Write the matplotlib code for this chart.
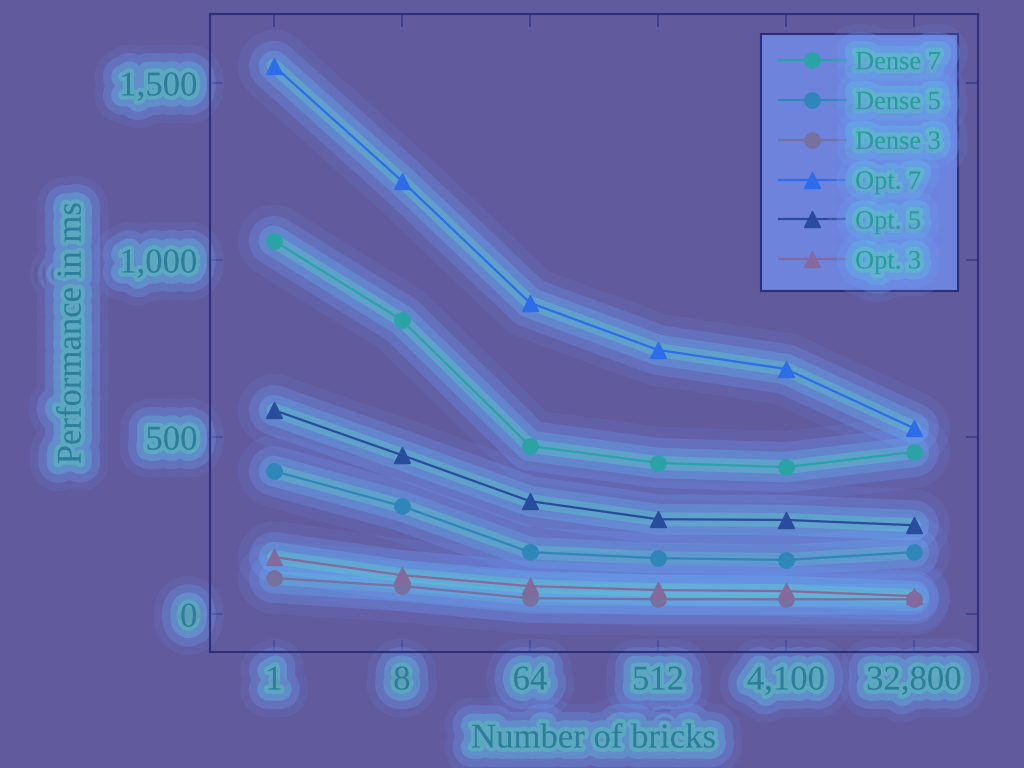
import matplotlib
matplotlib.use('Agg')
import matplotlib.pyplot as plt
import matplotlib.patheffects as pe
import numpy as np

# bricks (categorical, evenly spaced)
bricks = ['1', '8', '64', '512', '4,100', '32,800']

dense7 = [1054, 830, 475, 427, 415, 458]
dense5 = [404, 305, 175, 158, 153, 175]
dense3 = [102, 79, 45, 42, 42, 42]
opt7 = [1548, 1223, 879, 746, 692, 525]
opt5 = [576, 449, 319, 268, 266, 251]
opt3 = [161, 110, 79, 68, 65, 51]

series = [
    ('Dense 7', dense7, 'o', '#2aa3a6'),
    ('Dense 5', dense5, 'o', '#2f86b8'),
    ('Dense 3', dense3, 'o', '#76719f'),
    ('Opt. 7', opt7, '^', '#2f6cea'),
    ('Opt. 5', opt5, '^', '#2a4c9e'),
    ('Opt. 3', opt3, '^', '#85699c'),
]

bg = '#615a9c'
txt = '#2e7b9c'

plt.rcParams['font.family'] = ['Liberation Serif', 'DejaVu Serif']

def tglow():
    return [pe.Stroke(linewidth=40, foreground='#6a80dc', alpha=0.2),
            pe.Stroke(linewidth=28, foreground='#6a9cf0', alpha=0.3),
            pe.Stroke(linewidth=16, foreground='#5ec0e6', alpha=0.35),
            pe.Stroke(linewidth=6, foreground='#58dcb0', alpha=0.35),
            pe.Normal()]

fig = plt.figure(figsize=(10.24, 7.68), dpi=100, facecolor=bg)
ax = fig.add_axes([0.205, 0.151, 0.75, 0.831], facecolor=bg)

x = np.arange(len(bricks))
# soft halo under each series
for name, vals, mk, col in series:
    for w, c, a in [(52, '#6a80dc', 0.2), (36, '#6c98f2', 0.28),
                    (22, '#62b4f2', 0.32), (10, '#5cd6c8', 0.35)]:
        ax.plot(x, vals, color=c, lw=w, alpha=a, solid_capstyle='round',
                solid_joinstyle='round', zorder=1)

for name, vals, mk, col in series:
    ax.plot(x, vals, marker=mk, color=col, lw=1.6, markersize=11,
            label=name, zorder=3)

ax.set_xlim(-0.5, 5.5)
ax.set_ylim(-107, 1695)
ax.set_xticks(x)
ax.set_xticklabels(bricks)
ax.set_yticks([0, 500, 1000, 1500])
ax.set_yticklabels(['0', '500', '1,000', '1,500'])

ax.tick_params(direction='in', length=9, width=1.2, color='#3a3f8c',
               labelsize=25, labelcolor=txt, top=True, right=True, pad=9)
for s in ax.spines.values():
    s.set_color('#2c2f7c')
    s.set_linewidth(1.5)

for lab in ax.get_xticklabels() + ax.get_yticklabels():
    lab.set_path_effects(tglow())

ax.set_xlabel('Number of bricks', fontsize=25, color=txt, labelpad=18,
              path_effects=tglow())
ax.set_ylabel('Performance in ms', fontsize=25, color=txt, labelpad=22,
              path_effects=tglow())

leg = ax.legend(loc='upper right', fontsize=19, handlelength=2.5,
                handletextpad=0.4, labelspacing=0.62, borderpad=0.65,
                borderaxespad=0.75, fancybox=False,
                framealpha=1, facecolor='#6e84dc', edgecolor='#2c2f7c')
leg.get_frame().set_linewidth(1.5)
for t in leg.get_texts():
    t.set_color('#2a9a9a')
    t.set_path_effects(tglow())

fig.savefig('out.png', dpi=100, facecolor=bg)
